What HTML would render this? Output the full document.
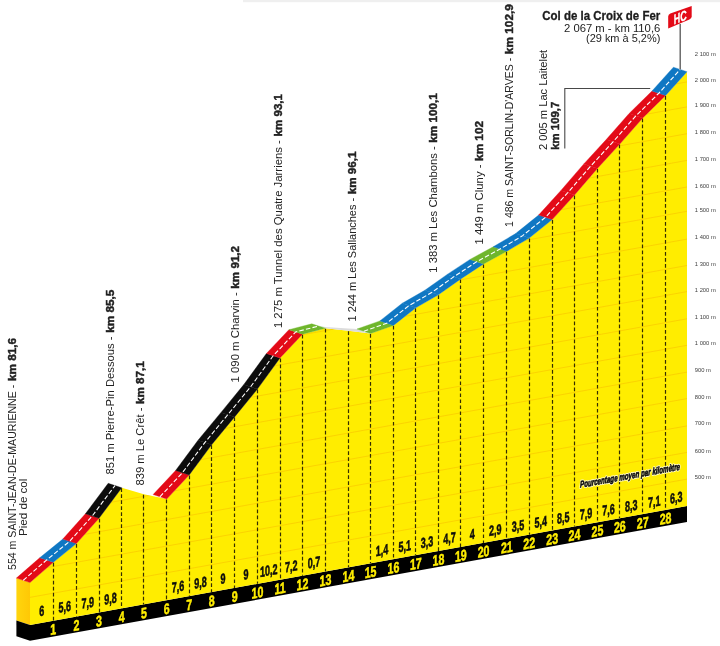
<!DOCTYPE html>
<html lang="fr"><head><meta charset="utf-8"><title>Col de la Croix de Fer</title>
<style>
html,body{margin:0;padding:0;background:#fff;}
body{width:720px;height:646px;overflow:hidden;font-family:"Liberation Sans",sans-serif;}
svg{display:block;will-change:transform;}
</style></head><body>
<svg width="720" height="646" viewBox="0 0 720 646">
<defs>
<linearGradient id="side" x1="0" x2="1" y1="0" y2="0"><stop offset="0" stop-color="#ffd50d"/><stop offset="1" stop-color="#ffc805"/></linearGradient>
<clipPath id="cf"><polygon points="30,582.6 53.3,562.3 76.4,543.6 99,518.3 121.8,487.8 143.9,494.3 166.7,499.1 189.2,475 211.6,444.8 234.6,416.9 257.4,389.1 280,358 302.5,334.2 325.4,328.3 348.4,330.7 370.6,333.5 393.5,325.4 415.8,307.8 438.4,294.8 460.8,278.9 483.6,263.9 506.8,251.3 529.2,238.1 552.2,219.6 574.5,195 597.4,168.4 619.8,144.1 642.7,118 665.6,95.5 687,71.7 687,506.08 30,625"/></clipPath>
</defs>
<rect x="243" y="0" width="477" height="2.2" fill="#efefef"/>
<polygon points="16.4,578.1 30,582.6 30,625 16.4,620.5" fill="url(#side)"/>
<polygon points="16.4,620.5 30,625 30,640.8 16.4,636.3" fill="#000"/>
<polygon points="30,625 687,506.08 687,521.88 30,640.8" fill="#000"/>
<polygon points="30,582.6 53.3,562.3 76.4,543.6 99,518.3 121.8,487.8 143.9,494.3 166.7,499.1 189.2,475 211.6,444.8 234.6,416.9 257.4,389.1 280,358 302.5,334.2 325.4,328.3 348.4,330.7 370.6,333.5 393.5,325.4 415.8,307.8 438.4,294.8 460.8,278.9 483.6,263.9 506.8,251.3 529.2,238.1 552.2,219.6 574.5,195 597.4,168.4 619.8,144.1 642.7,118 665.6,95.5 687,71.7 687,506.08 30,625" fill="#ffed00"/>
<g clip-path="url(#cf)" stroke="#f4a300" stroke-width="0.6" opacity="0.58">
<line x1="30" y1="200.16" x2="687" y2="81.9"/>
<line x1="30" y1="225.16" x2="687" y2="106.9"/>
<line x1="30" y1="251.96" x2="687" y2="133.7"/>
<line x1="30" y1="278.66" x2="687" y2="160.4"/>
<line x1="30" y1="305.26" x2="687" y2="187"/>
<line x1="30" y1="329.56" x2="687" y2="211.3"/>
<line x1="30" y1="357.36" x2="687" y2="239.1"/>
<line x1="30" y1="383.76" x2="687" y2="265.5"/>
<line x1="30" y1="409.86" x2="687" y2="291.6"/>
<line x1="30" y1="437.06" x2="687" y2="318.8"/>
<line x1="30" y1="463.56" x2="687" y2="345.3"/>
<line x1="30" y1="490.36" x2="687" y2="372.1"/>
<line x1="30" y1="516.86" x2="687" y2="398.6"/>
<line x1="30" y1="544.16" x2="687" y2="425.9"/>
<line x1="30" y1="570.66" x2="687" y2="452.4"/>
<line x1="30" y1="597.36" x2="687" y2="479.1"/>
</g>
<g stroke="#352e00" stroke-width="1.2" stroke-dasharray="3.7 2.3">
<line x1="53.5" y1="562.8" x2="53.5" y2="620.78"/>
<line x1="76.5" y1="544.1" x2="76.5" y2="616.6"/>
<line x1="99.5" y1="518.8" x2="99.5" y2="612.51"/>
<line x1="121.5" y1="488.3" x2="121.5" y2="608.38"/>
<line x1="143.5" y1="494.8" x2="143.5" y2="604.38"/>
<line x1="166.5" y1="499.6" x2="166.5" y2="600.26"/>
<line x1="189.5" y1="475.5" x2="189.5" y2="596.18"/>
<line x1="211.5" y1="445.3" x2="211.5" y2="592.13"/>
<line x1="234.5" y1="417.4" x2="234.5" y2="587.97"/>
<line x1="257.5" y1="389.6" x2="257.5" y2="583.84"/>
<line x1="280.5" y1="358.5" x2="280.5" y2="579.75"/>
<line x1="302.5" y1="334.7" x2="302.5" y2="575.68"/>
<line x1="325.5" y1="328.8" x2="325.5" y2="571.53"/>
<line x1="348.5" y1="331.2" x2="348.5" y2="567.37"/>
<line x1="370.5" y1="334" x2="370.5" y2="563.35"/>
<line x1="393.5" y1="325.9" x2="393.5" y2="559.21"/>
<line x1="415.5" y1="308.3" x2="415.5" y2="555.17"/>
<line x1="438.5" y1="295.3" x2="438.5" y2="551.08"/>
<line x1="460.5" y1="279.4" x2="460.5" y2="547.03"/>
<line x1="483.5" y1="264.4" x2="483.5" y2="542.9"/>
<line x1="506.5" y1="251.8" x2="506.5" y2="538.7"/>
<line x1="529.5" y1="238.6" x2="529.5" y2="534.64"/>
<line x1="552.5" y1="220.1" x2="552.5" y2="530.48"/>
<line x1="574.5" y1="195.5" x2="574.5" y2="526.45"/>
<line x1="597.5" y1="168.9" x2="597.5" y2="522.3"/>
<line x1="619.5" y1="144.6" x2="619.5" y2="518.25"/>
<line x1="642.5" y1="118.5" x2="642.5" y2="514.1"/>
<line x1="665.5" y1="96" x2="665.5" y2="509.96"/>
</g>
<polygon points="318.3,325.7 325.3,327.1 348.2,328.4 357.2,329 370.6,333.5 348.4,330.7 325.4,328.3" fill="#dcdcdc"/>
<polygon points="30,582.6 53.3,562.3 39.7,557.8 16.4,578.1" fill="#e30a17" stroke="#e30a17" stroke-width="0.35"/>
<polygon points="53.3,562.3 76.4,543.6 62.8,539.1 39.7,557.8" fill="#0f77c3" stroke="#0f77c3" stroke-width="0.35"/>
<polygon points="76.4,543.6 99,518.3 85.4,513.8 62.8,539.1" fill="#e30a17" stroke="#e30a17" stroke-width="0.35"/>
<polygon points="99,518.3 121.8,487.8 108.2,483.3 85.4,513.8" fill="#0c0c0c" stroke="#0c0c0c" stroke-width="0.35"/>
<polygon points="166.7,499.1 189.2,475 175.6,470.5 153.1,494.6" fill="#e30a17" stroke="#e30a17" stroke-width="0.35"/>
<polygon points="189.2,475 211.6,444.8 198,440.3 175.6,470.5" fill="#0c0c0c" stroke="#0c0c0c" stroke-width="0.35"/>
<polygon points="211.6,444.8 234.6,416.9 221,412.4 198,440.3" fill="#0c0c0c" stroke="#0c0c0c" stroke-width="0.35"/>
<polygon points="234.6,416.9 257.4,389.1 243.8,384.6 221,412.4" fill="#0c0c0c" stroke="#0c0c0c" stroke-width="0.35"/>
<polygon points="257.4,389.1 280,358 266.4,353.5 243.8,384.6" fill="#0c0c0c" stroke="#0c0c0c" stroke-width="0.35"/>
<polygon points="280,358 302.5,334.2 288.9,329.7 266.4,353.5" fill="#e30a17" stroke="#e30a17" stroke-width="0.35"/>
<polygon points="302.5,334.2 325.4,328.3 311.8,323.8 288.9,329.7" fill="#6fb62c" stroke="#6fb62c" stroke-width="0.35"/>
<polygon points="370.6,333.5 393.5,325.4 379.9,320.9 357,329" fill="#6fb62c" stroke="#6fb62c" stroke-width="0.35"/>
<polygon points="393.5,325.4 415.8,307.8 402.2,303.3 379.9,320.9" fill="#0f77c3" stroke="#0f77c3" stroke-width="0.35"/>
<polygon points="415.8,307.8 438.4,294.8 424.8,290.3 402.2,303.3" fill="#0f77c3" stroke="#0f77c3" stroke-width="0.35"/>
<polygon points="438.4,294.8 460.8,278.9 447.2,274.4 424.8,290.3" fill="#0f77c3" stroke="#0f77c3" stroke-width="0.35"/>
<polygon points="460.8,278.9 483.6,263.9 470,259.4 447.2,274.4" fill="#0f77c3" stroke="#0f77c3" stroke-width="0.35"/>
<polygon points="483.6,263.9 506.8,251.3 493.2,246.8 470,259.4" fill="#6fb62c" stroke="#6fb62c" stroke-width="0.35"/>
<polygon points="506.8,251.3 529.2,238.1 515.6,233.6 493.2,246.8" fill="#0f77c3" stroke="#0f77c3" stroke-width="0.35"/>
<polygon points="529.2,238.1 552.2,219.6 538.6,215.1 515.6,233.6" fill="#0f77c3" stroke="#0f77c3" stroke-width="0.35"/>
<polygon points="552.2,219.6 574.5,195 560.9,190.5 538.6,215.1" fill="#e30a17" stroke="#e30a17" stroke-width="0.35"/>
<polygon points="574.5,195 597.4,168.4 583.8,163.9 560.9,190.5" fill="#e30a17" stroke="#e30a17" stroke-width="0.35"/>
<polygon points="597.4,168.4 619.8,144.1 606.2,139.6 583.8,163.9" fill="#e30a17" stroke="#e30a17" stroke-width="0.35"/>
<polygon points="619.8,144.1 642.7,118 629.1,113.5 606.2,139.6" fill="#e30a17" stroke="#e30a17" stroke-width="0.35"/>
<polygon points="642.7,118 665.6,95.5 652,91 629.1,113.5" fill="#e30a17" stroke="#e30a17" stroke-width="0.35"/>
<polygon points="665.6,95.5 687,71.7 673.4,67.2 652,91" fill="#0f77c3" stroke="#0f77c3" stroke-width="0.35"/>
<polyline points="23.2,580.35 46.5,560.05 69.6,541.35 92.2,516.05 115,485.55" fill="none" stroke="#fff" stroke-width="1.1" stroke-dasharray="4.6 2.2"/>
<polyline points="159.9,496.85 182.4,472.75 204.8,442.55 227.8,414.65 250.6,386.85 273.2,355.75 295.7,331.95 318.6,326.05" fill="none" stroke="#fff" stroke-width="1.1" stroke-dasharray="4.6 2.2"/>
<polyline points="363.8,331.25 386.7,323.15 409,305.55 431.6,292.55 454,276.65 476.8,261.65 500,249.05 522.4,235.85 545.4,217.35 567.7,192.75 590.6,166.15 613,141.85 635.9,115.75 658.8,93.25 680.2,69.45" fill="none" stroke="#fff" stroke-width="1.1" stroke-dasharray="4.6 2.2"/>
<g font-family="'Liberation Sans', sans-serif" font-weight="bold" text-anchor="middle">
<text transform="translate(53.3,629.08) skewY(-10.26) scale(0.71,1)" y="5.5" font-size="15" fill="#ffed00" stroke="#ffed00" stroke-width="0.5">1</text>
<text transform="translate(76.4,624.9) skewY(-10.26) scale(0.71,1)" y="5.5" font-size="15" fill="#ffed00" stroke="#ffed00" stroke-width="0.5">2</text>
<text transform="translate(99,620.81) skewY(-10.26) scale(0.71,1)" y="5.5" font-size="15" fill="#ffed00" stroke="#ffed00" stroke-width="0.5">3</text>
<text transform="translate(121.8,616.68) skewY(-10.26) scale(0.71,1)" y="5.5" font-size="15" fill="#ffed00" stroke="#ffed00" stroke-width="0.5">4</text>
<text transform="translate(143.9,612.68) skewY(-10.26) scale(0.71,1)" y="5.5" font-size="15" fill="#ffed00" stroke="#ffed00" stroke-width="0.5">5</text>
<text transform="translate(166.7,608.56) skewY(-10.26) scale(0.71,1)" y="5.5" font-size="15" fill="#ffed00" stroke="#ffed00" stroke-width="0.5">6</text>
<text transform="translate(189.2,604.48) skewY(-10.26) scale(0.71,1)" y="5.5" font-size="15" fill="#ffed00" stroke="#ffed00" stroke-width="0.5">7</text>
<text transform="translate(211.6,600.43) skewY(-10.26) scale(0.71,1)" y="5.5" font-size="15" fill="#ffed00" stroke="#ffed00" stroke-width="0.5">8</text>
<text transform="translate(234.6,596.27) skewY(-10.26) scale(0.71,1)" y="5.5" font-size="15" fill="#ffed00" stroke="#ffed00" stroke-width="0.5">9</text>
<text transform="translate(257.4,592.14) skewY(-10.26) scale(0.71,1)" y="5.5" font-size="15" fill="#ffed00" stroke="#ffed00" stroke-width="0.5">10</text>
<text transform="translate(280,588.05) skewY(-10.26) scale(0.71,1)" y="5.5" font-size="15" fill="#ffed00" stroke="#ffed00" stroke-width="0.5">11</text>
<text transform="translate(302.5,583.98) skewY(-10.26) scale(0.71,1)" y="5.5" font-size="15" fill="#ffed00" stroke="#ffed00" stroke-width="0.5">12</text>
<text transform="translate(325.4,579.83) skewY(-10.26) scale(0.71,1)" y="5.5" font-size="15" fill="#ffed00" stroke="#ffed00" stroke-width="0.5">13</text>
<text transform="translate(348.4,575.67) skewY(-10.26) scale(0.71,1)" y="5.5" font-size="15" fill="#ffed00" stroke="#ffed00" stroke-width="0.5">14</text>
<text transform="translate(370.6,571.65) skewY(-10.26) scale(0.71,1)" y="5.5" font-size="15" fill="#ffed00" stroke="#ffed00" stroke-width="0.5">15</text>
<text transform="translate(393.5,567.51) skewY(-10.26) scale(0.71,1)" y="5.5" font-size="15" fill="#ffed00" stroke="#ffed00" stroke-width="0.5">16</text>
<text transform="translate(415.8,563.47) skewY(-10.26) scale(0.71,1)" y="5.5" font-size="15" fill="#ffed00" stroke="#ffed00" stroke-width="0.5">17</text>
<text transform="translate(438.4,559.38) skewY(-10.26) scale(0.71,1)" y="5.5" font-size="15" fill="#ffed00" stroke="#ffed00" stroke-width="0.5">18</text>
<text transform="translate(460.8,555.33) skewY(-10.26) scale(0.71,1)" y="5.5" font-size="15" fill="#ffed00" stroke="#ffed00" stroke-width="0.5">19</text>
<text transform="translate(483.6,551.2) skewY(-10.26) scale(0.71,1)" y="5.5" font-size="15" fill="#ffed00" stroke="#ffed00" stroke-width="0.5">20</text>
<text transform="translate(506.8,547) skewY(-10.26) scale(0.71,1)" y="5.5" font-size="15" fill="#ffed00" stroke="#ffed00" stroke-width="0.5">21</text>
<text transform="translate(529.2,542.94) skewY(-10.26) scale(0.71,1)" y="5.5" font-size="15" fill="#ffed00" stroke="#ffed00" stroke-width="0.5">22</text>
<text transform="translate(552.2,538.78) skewY(-10.26) scale(0.71,1)" y="5.5" font-size="15" fill="#ffed00" stroke="#ffed00" stroke-width="0.5">23</text>
<text transform="translate(574.5,534.75) skewY(-10.26) scale(0.71,1)" y="5.5" font-size="15" fill="#ffed00" stroke="#ffed00" stroke-width="0.5">24</text>
<text transform="translate(597.4,530.6) skewY(-10.26) scale(0.71,1)" y="5.5" font-size="15" fill="#ffed00" stroke="#ffed00" stroke-width="0.5">25</text>
<text transform="translate(619.8,526.55) skewY(-10.26) scale(0.71,1)" y="5.5" font-size="15" fill="#ffed00" stroke="#ffed00" stroke-width="0.5">26</text>
<text transform="translate(642.7,522.4) skewY(-10.26) scale(0.71,1)" y="5.5" font-size="15" fill="#ffed00" stroke="#ffed00" stroke-width="0.5">27</text>
<text transform="translate(665.6,518.26) skewY(-10.26) scale(0.71,1)" y="5.5" font-size="15" fill="#ffed00" stroke="#ffed00" stroke-width="0.5">28</text>
<text transform="translate(41.65,610.74) skewY(-10.26) scale(0.63,1)" y="5.1" font-size="14.3" fill="#0d0d0d" stroke="#0d0d0d" stroke-width="0.55">6</text>
<text transform="translate(64.85,606.6) skewY(-10.26) scale(0.63,1)" y="5.1" font-size="14.3" fill="#0d0d0d" stroke="#0d0d0d" stroke-width="0.55">5,6</text>
<text transform="translate(87.7,602.52) skewY(-10.26) scale(0.63,1)" y="5.1" font-size="14.3" fill="#0d0d0d" stroke="#0d0d0d" stroke-width="0.55">7,9</text>
<text transform="translate(110.4,598.47) skewY(-10.26) scale(0.63,1)" y="5.1" font-size="14.3" fill="#0d0d0d" stroke="#0d0d0d" stroke-width="0.55">9,8</text>
<text transform="translate(177.95,586.42) skewY(-10.26) scale(0.63,1)" y="5.1" font-size="14.3" fill="#0d0d0d" stroke="#0d0d0d" stroke-width="0.55">7,6</text>
<text transform="translate(200.4,582.41) skewY(-10.26) scale(0.63,1)" y="5.1" font-size="14.3" fill="#0d0d0d" stroke="#0d0d0d" stroke-width="0.55">9,8</text>
<text transform="translate(223.1,578.36) skewY(-10.26) scale(0.63,1)" y="5.1" font-size="14.3" fill="#0d0d0d" stroke="#0d0d0d" stroke-width="0.55">9</text>
<text transform="translate(246,574.27) skewY(-10.26) scale(0.63,1)" y="5.1" font-size="14.3" fill="#0d0d0d" stroke="#0d0d0d" stroke-width="0.55">9</text>
<text transform="translate(268.7,570.22) skewY(-10.26) scale(0.63,1)" y="5.1" font-size="14.3" fill="#0d0d0d" stroke="#0d0d0d" stroke-width="0.55">10,2</text>
<text transform="translate(291.25,566.19) skewY(-10.26) scale(0.63,1)" y="5.1" font-size="14.3" fill="#0d0d0d" stroke="#0d0d0d" stroke-width="0.55">7,2</text>
<text transform="translate(313.95,562.14) skewY(-10.26) scale(0.63,1)" y="5.1" font-size="14.3" fill="#0d0d0d" stroke="#0d0d0d" stroke-width="0.55">0,7</text>
<text transform="translate(382.05,549.98) skewY(-10.26) scale(0.63,1)" y="5.1" font-size="14.3" fill="#0d0d0d" stroke="#0d0d0d" stroke-width="0.55">1,4</text>
<text transform="translate(404.65,545.95) skewY(-10.26) scale(0.63,1)" y="5.1" font-size="14.3" fill="#0d0d0d" stroke="#0d0d0d" stroke-width="0.55">5,1</text>
<text transform="translate(427.1,541.94) skewY(-10.26) scale(0.63,1)" y="5.1" font-size="14.3" fill="#0d0d0d" stroke="#0d0d0d" stroke-width="0.55">3,3</text>
<text transform="translate(449.6,537.93) skewY(-10.26) scale(0.63,1)" y="5.1" font-size="14.3" fill="#0d0d0d" stroke="#0d0d0d" stroke-width="0.55">4,7</text>
<text transform="translate(472.2,533.89) skewY(-10.26) scale(0.63,1)" y="5.1" font-size="14.3" fill="#0d0d0d" stroke="#0d0d0d" stroke-width="0.55">4</text>
<text transform="translate(495.2,529.79) skewY(-10.26) scale(0.63,1)" y="5.1" font-size="14.3" fill="#0d0d0d" stroke="#0d0d0d" stroke-width="0.55">2,9</text>
<text transform="translate(518,525.72) skewY(-10.26) scale(0.63,1)" y="5.1" font-size="14.3" fill="#0d0d0d" stroke="#0d0d0d" stroke-width="0.55">3,5</text>
<text transform="translate(540.7,521.66) skewY(-10.26) scale(0.63,1)" y="5.1" font-size="14.3" fill="#0d0d0d" stroke="#0d0d0d" stroke-width="0.55">5,4</text>
<text transform="translate(563.35,517.62) skewY(-10.26) scale(0.63,1)" y="5.1" font-size="14.3" fill="#0d0d0d" stroke="#0d0d0d" stroke-width="0.55">8,5</text>
<text transform="translate(585.95,513.59) skewY(-10.26) scale(0.63,1)" y="5.1" font-size="14.3" fill="#0d0d0d" stroke="#0d0d0d" stroke-width="0.55">7,9</text>
<text transform="translate(608.6,509.54) skewY(-10.26) scale(0.63,1)" y="5.1" font-size="14.3" fill="#0d0d0d" stroke="#0d0d0d" stroke-width="0.55">7,6</text>
<text transform="translate(631.25,505.5) skewY(-10.26) scale(0.63,1)" y="5.1" font-size="14.3" fill="#0d0d0d" stroke="#0d0d0d" stroke-width="0.55">8,3</text>
<text transform="translate(654.15,501.41) skewY(-10.26) scale(0.63,1)" y="5.1" font-size="14.3" fill="#0d0d0d" stroke="#0d0d0d" stroke-width="0.55">7,1</text>
<text transform="translate(676.3,497.46) skewY(-10.26) scale(0.63,1)" y="5.1" font-size="14.3" fill="#0d0d0d" stroke="#0d0d0d" stroke-width="0.55">6,3</text>
</g>
<text transform="translate(630,475.6) skewY(-10.26) scale(0.648,1)" y="3.2" font-family="'Liberation Sans', sans-serif" font-weight="bold" font-style="italic" font-size="9.6" text-anchor="middle" stroke="#fffbc8" stroke-width="2.4" stroke-linejoin="round" fill="#fffbc8">Pourcentage moyen par kilomètre</text>
<text transform="translate(630,475.6) skewY(-10.26) scale(0.648,1)" y="3.2" font-family="'Liberation Sans', sans-serif" font-weight="bold" font-style="italic" font-size="9.6" text-anchor="middle" fill="#0a0a0a" stroke="#0a0a0a" stroke-width="0.6">Pourcentage moyen par kilomètre</text>
<g font-family="'Liberation Sans', sans-serif" font-size="11.8" fill="#222">
<text transform="translate(15.9,570) rotate(-90)" textLength="185.3" lengthAdjust="spacingAndGlyphs">554 m SAINT-JEAN-DE-MAURIENNE -</text>
<text transform="translate(15.9,381.1) rotate(-90)" font-weight="bold" stroke="#222" stroke-width="0.45" textLength="43.1" lengthAdjust="spacingAndGlyphs">km 81,6</text>
<text transform="translate(27.2,536) rotate(-90)" textLength="57.4" lengthAdjust="spacingAndGlyphs">Pied de col</text>
<text transform="translate(114.4,474.6) rotate(-90)" textLength="138.2" lengthAdjust="spacingAndGlyphs">851 m Pierre-Pin Dessous -</text>
<text transform="translate(114.4,332.8) rotate(-90)" font-weight="bold" stroke="#222" stroke-width="0.45" textLength="43.1" lengthAdjust="spacingAndGlyphs">km 85,5</text>
<text transform="translate(144,485.6) rotate(-90)" textLength="78" lengthAdjust="spacingAndGlyphs">839 m Le Crêt -</text>
<text transform="translate(144,404) rotate(-90)" font-weight="bold" stroke="#222" stroke-width="0.45" textLength="42.8" lengthAdjust="spacingAndGlyphs">km 87,1</text>
<text transform="translate(239.3,382.4) rotate(-90)" textLength="90.1" lengthAdjust="spacingAndGlyphs">1 090 m Charvin -</text>
<text transform="translate(239.3,288.7) rotate(-90)" font-weight="bold" stroke="#222" stroke-width="0.45" textLength="42.8" lengthAdjust="spacingAndGlyphs">km 91,2</text>
<text transform="translate(282.3,328.1) rotate(-90)" textLength="188" lengthAdjust="spacingAndGlyphs">1 275 m Tunnel des Quatre Jarriens -</text>
<text transform="translate(282.3,136.5) rotate(-90)" font-weight="bold" stroke="#222" stroke-width="0.45" textLength="42.5" lengthAdjust="spacingAndGlyphs">km 93,1</text>
<text transform="translate(355.7,321.5) rotate(-90)" textLength="123.6" lengthAdjust="spacingAndGlyphs">1 244 m Les Sallanches -</text>
<text transform="translate(355.7,194.3) rotate(-90)" font-weight="bold" stroke="#222" stroke-width="0.45" textLength="42.8" lengthAdjust="spacingAndGlyphs">km 96,1</text>
<text transform="translate(437.4,272.7) rotate(-90)" textLength="126.4" lengthAdjust="spacingAndGlyphs">1 383 m Les Chambons -</text>
<text transform="translate(437.4,142.7) rotate(-90)" font-weight="bold" stroke="#222" stroke-width="0.45" textLength="49.4" lengthAdjust="spacingAndGlyphs">km 100,1</text>
<text transform="translate(482.5,244.5) rotate(-90)" textLength="80" lengthAdjust="spacingAndGlyphs">1 449 m Cluny -</text>
<text transform="translate(482.5,160.9) rotate(-90)" font-weight="bold" stroke="#222" stroke-width="0.45" textLength="39.9" lengthAdjust="spacingAndGlyphs">km 102</text>
<text transform="translate(513.2,226.9) rotate(-90)" textLength="169.1" lengthAdjust="spacingAndGlyphs">1 486 m SAINT-SORLIN-D'ARVES -</text>
<text transform="translate(513.2,54.2) rotate(-90)" font-weight="bold" stroke="#222" stroke-width="0.45" textLength="50.1" lengthAdjust="spacingAndGlyphs">km 102,9</text>
<text transform="translate(547.2,150.1) rotate(-90)" textLength="100.3" lengthAdjust="spacingAndGlyphs">2 005 m Lac Laitelet</text>
<text transform="translate(559.1,149.8) rotate(-90)" font-weight="bold" stroke="#222" stroke-width="0.45" textLength="48.1" lengthAdjust="spacingAndGlyphs">km 109,7</text>
</g>
<polyline points="564.8,148.6 564.8,88.5 650.2,88.5" fill="none" stroke="#484848" stroke-width="1.1"/>
<g font-family="'Liberation Sans', sans-serif" text-anchor="end" fill="#1a1a1a" opacity="0.99">
<text x="660.3" y="20.2" font-size="12.2" font-weight="bold" stroke="#1a1a1a" stroke-width="0.3" textLength="118" lengthAdjust="spacingAndGlyphs">Col de la Croix de Fer</text>
<text x="660.3" y="31.5" font-size="10.9" textLength="96.3" lengthAdjust="spacingAndGlyphs">2 067 m - km 110,6</text>
<text x="660.3" y="42.1" font-size="10.9" textLength="74.3" lengthAdjust="spacingAndGlyphs">(29 km à 5,2%)</text>
</g>
<line x1="680.2" y1="24" x2="680.2" y2="69.5" stroke="#555" stroke-width="1.3"/>
<path d="M668.2,16.4 Q668.2,14.2 670.3,13.4 L691.7,5.9 L691.7,16.2 Q691.7,18.6 689.4,19.6 L668.2,28.6 Z" fill="#e30a17"/>
<text transform="translate(680.3,22.1) skewY(-20) scale(0.64,1)" font-family="'Liberation Sans', sans-serif" font-weight="bold" font-size="14" fill="#fff" stroke="#fff" stroke-width="0.3" text-anchor="middle">HC</text>
<g font-family="'Liberation Sans', sans-serif" font-size="5.8" fill="#3c3c3c" opacity="0.99">
<text x="694.8" y="56.3">2 100 m</text>
<text x="694.8" y="81.8">2 000 m</text>
<text x="694.8" y="107.1">1 900 m</text>
<text x="694.8" y="133.9">1 800 m</text>
<text x="694.8" y="161">1 700 m</text>
<text x="694.8" y="187.6">1 600 m</text>
<text x="694.8" y="211.7">1 500 m</text>
<text x="694.8" y="239.4">1 400 m</text>
<text x="694.8" y="265.9">1 300 m</text>
<text x="694.8" y="291.7">1 200 m</text>
<text x="694.8" y="319">1 100 m</text>
<text x="694.8" y="345">1 000 m</text>
<text x="694.8" y="372.1">900 m</text>
<text x="694.8" y="398.8">800 m</text>
<text x="694.8" y="425.4">700 m</text>
<text x="694.8" y="452.7">600 m</text>
<text x="694.8" y="479.2">500 m</text>
</g>
</svg>
</body></html>
